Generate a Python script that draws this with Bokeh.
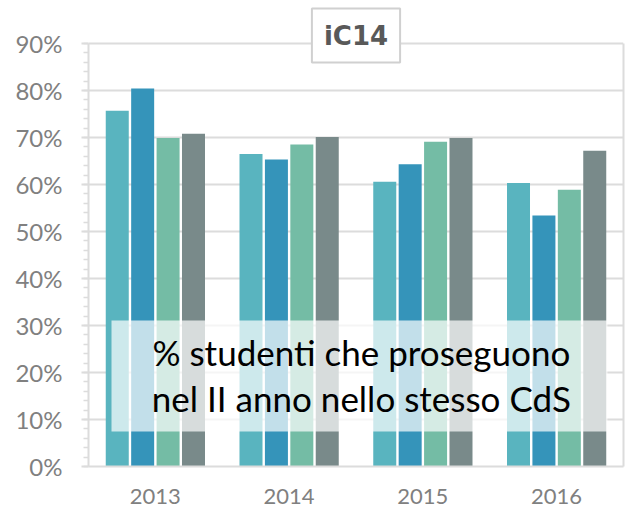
from bokeh.plotting import figure
from bokeh.models import (ColumnDataSource, FactorRange, Range1d, Label, BoxAnnotation,
                          FixedTicker, CustomJSTickFormatter, LinearAxis)
from bokeh.transform import dodge
from bokeh.embed import file_html
from bokeh.resources import INLINE

years = ["2013", "2014", "2015", "2016"]
serie_1 = [75.7, 66.5, 60.6, 60.3]
serie_2 = [80.4, 65.3, 64.3, 53.4]
serie_3 = [69.9, 68.5, 69.1, 58.9]
serie_4 = [70.8, 70.1, 69.9, 67.2]
colors = ["#59b4bf", "#3594ba", "#74bca5", "#798a8a"]
y_ticks = [0, 10, 20, 30, 40, 50, 60, 70, 80, 90]
y_max = 90
title_text = "iC14"
note_lines = ["% studenti che proseguono", "nel II anno nello stesso CdS"]

src = ColumnDataSource(dict(years=years, s1=serie_1, s2=serie_2, s3=serie_3, s4=serie_4))

# frame reaches the top of the canvas so the title box can overlap the chart border
y_top = y_max * 466 / 423
p = figure(width=628, height=508, x_range=FactorRange(*years, range_padding=0),
           y_range=Range1d(0, y_top), output_backend="svg", toolbar_location=None,
           min_border_left=88, min_border_right=5, min_border_top=0, min_border_bottom=42)

offsets = [-0.285, -0.095, 0.095, 0.285]
for key, off, c in zip(["s1", "s2", "s3", "s4"], offsets, colors):
    p.vbar(x=dodge("years", off, range=p.x_range), top=key, width=0.172, source=src,
           fill_color=c, line_color=None)

grid_c = "#dcdcdc"
p.xgrid.grid_line_color = None
p.ygrid.grid_line_color = grid_c
p.ygrid.grid_line_width = 2
p.outline_line_color = None
p.background_fill_color = "white"
p.border_fill_color = "white"

yax = p.yaxis[0]
yax.bounds = (0, y_max)
yax.ticker = FixedTicker(ticks=y_ticks, minor_ticks=list(range(0, y_max + 1, 2)))
yax.formatter = CustomJSTickFormatter(code="return tick.toFixed(0) + '%';")
yax.axis_line_color = grid_c
yax.axis_line_width = 2
yax.major_tick_line_color = grid_c
yax.major_tick_line_width = 2
yax.major_tick_out = 7
yax.major_tick_in = 0
yax.minor_tick_line_color = grid_c
yax.minor_tick_line_width = 1.5
yax.minor_tick_out = 5
yax.minor_tick_in = 0
yax.major_label_text_font = "Lato"
yax.major_label_text_font_size = "24px"
yax.major_label_text_color = "#808080"
yax.major_label_standoff = 19

# right border of the chart box
rax = LinearAxis(bounds=(0, y_max), ticker=FixedTicker(ticks=[]),
                 axis_line_color=grid_c, axis_line_width=2,
                 major_tick_line_color=None, minor_tick_line_color=None,
                 major_label_text_font_size="1px", major_label_standoff=0)
p.add_layout(rax, "right")

xax = p.xaxis[0]
xax.axis_line_color = grid_c
xax.axis_line_width = 2
xax.major_tick_line_color = None
xax.minor_tick_line_color = None
xax.major_label_text_font = "Lato"
xax.major_label_text_font_size = "22px"
xax.major_label_text_color = "#808080"
xax.major_label_standoff = 16

# overlay note box
p.add_layout(BoxAnnotation(left=0.172, right=3.88, bottom=7.45, top=31.06,
                           fill_color="white", fill_alpha=0.7, line_color=None))
for txt, yy in zip(note_lines, [24.26, 14.68]):
    p.add_layout(Label(x=2.04, y=yy, text=txt, text_align="center", text_baseline="middle",
                       text_font="Lato", text_font_size="35px", text_color="black"))

# title box with shadow
p.add_layout(Label(x=2.0, y=91.7, text=title_text, text_align="center", text_baseline="middle",
                   x_offset=4, y_offset=-5, text_alpha=0, text_font="DejaVu Sans",
                   text_font_size="26px", text_font_style="bold",
                   background_fill_color="#707070", background_fill_alpha=0.35, padding=12))
p.add_layout(Label(x=2.0, y=91.7, text=title_text, text_align="center", text_baseline="middle",
                   text_font="DejaVu Sans", text_font_size="26px", text_font_style="bold",
                   text_color="#595959", background_fill_color="white",
                   border_line_color="#d0d0d0", border_line_width=2, padding=12))

open("out.html", "w").write(file_html(p, INLINE))
